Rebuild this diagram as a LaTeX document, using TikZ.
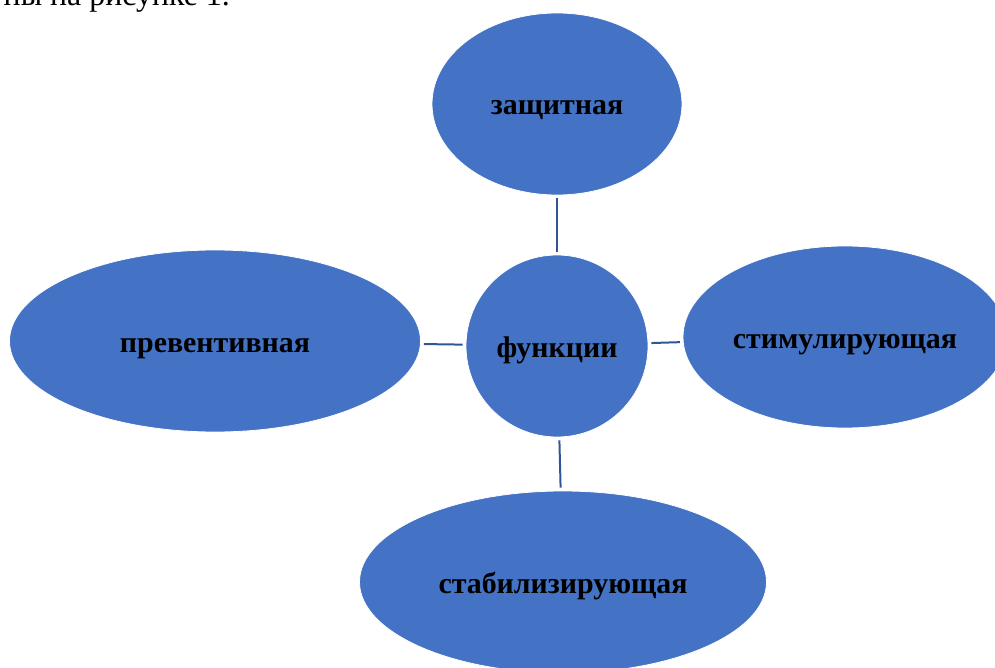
\documentclass[tikz,border=0pt]{standalone}
\usepackage{fontspec}
\setmainfont{Liberation Serif}
\usetikzlibrary{positioning, shapes.geometric}

\definecolor{fillblue}{HTML}{4472C4}
\definecolor{lineblue}{HTML}{2F5597}

\begin{document}
\begin{tikzpicture}[
    x=1bp, y=-1bp,
    % Node styles
    role/.style n args={2}{
        ellipse,
        fill=fillblue,
        draw=white,
        line width=0.8pt,
        inner sep=0pt,
        text height=22bp,
        text depth=0pt,
        minimum width=#1,
        minimum height=#2,
        font=\fontsize{30}{34}\selectfont\bfseries
    },
    link/.style={
        draw=lineblue,
        line width=2pt,
        shorten >=3bp,
        shorten <=3bp
    }
]
\useasboundingbox (0,0) rectangle (995,668);

% Cut-off line of the page text
\node[anchor=base east, inner sep=0pt, font=\fontsize{32}{36}\selectfont] (caption) at (230,6) {ны на рисунке 1.};

% Centre
\node[role={182bp}{182bp}] (func) at (557,346) {функции};

% Outer ellipses
\node[role={250bp}{182bp}] (protect) at (557,104) {защитная};
\node[role={411bp}{182bp}] (prevent) at (215,341) {превентивная};
\node[role={324bp}{182bp}] (stimul) at (845,337) {стимулирующая};
\node[role={407bp}{182bp}] (stabil) at (563,582) {стабилизирующая};

% Connectors
\draw[link] (func) -- (protect);
\draw[link] (func) -- (prevent);
\draw[link] (func) -- (stimul);
\draw[link] (func) -- (stabil);

\end{tikzpicture}
\end{document}
